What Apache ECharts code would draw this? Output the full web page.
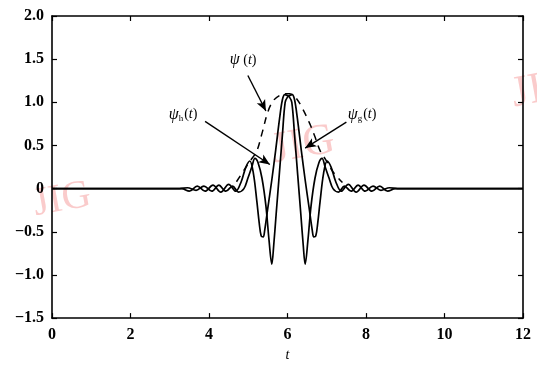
<!DOCTYPE html>
<html><head><meta charset="utf-8">
<script src="https://cdn.jsdelivr.net/npm/echarts@6/dist/echarts.min.js"></script>
<style>html,body{margin:0;padding:0;background:#fff}#c{width:537px;height:367px}</style>
</head><body><div id="c"></div>
<script>
// psi_h(t)
const tH = [0, 3.3, 3.5, 3.7, 3.9, 4.1, 4.3, 4.5, 4.68, 4.82, 4.94, 5.04, 5.13, 5.22, 5.28, 5.33, 5.38, 5.42, 5.5, 5.6, 5.7, 5.8, 5.87, 5.93, 5.99, 6.05, 6.11, 6.18, 6.26, 6.34, 6.4, 6.45, 6.52, 6.6, 6.7, 6.8, 6.88, 6.96, 7.06, 7.16, 7.3, 7.45, 7.62, 7.8, 7.98, 8.18, 8.38, 8.6, 8.8, 12];
const vH = [0, 0, -0.03, 0.03, -0.03, 0.04, -0.04, 0.05, -0.03, 0.08, 0.25, 0.32, 0.18, -0.15, -0.4, -0.55, -0.56, -0.48, -0.22, 0.1, 0.45, 0.82, 1.03, 1.09, 1.08, 1.06, 1.0, 0.62, 0.16, -0.3, -0.65, -0.875, -0.6, -0.2, 0.12, 0.3, 0.35, 0.25, 0.12, 0.0, -0.04, 0.03, -0.03, 0.04, -0.03, 0.03, -0.02, 0.01, 0, 0];
// psi_g(t)
const tG = [0, 3.25, 3.45, 3.67, 3.87, 4.07, 4.25, 4.43, 4.6, 4.75, 4.89, 4.99, 5.09, 5.17, 5.25, 5.35, 5.45, 5.53, 5.6, 5.65, 5.71, 5.79, 5.87, 5.94, 6.0, 6.06, 6.12, 6.18, 6.25, 6.35, 6.45, 6.55, 6.63, 6.67, 6.72, 6.77, 6.83, 6.92, 7.01, 7.11, 7.23, 7.37, 7.55, 7.75, 7.95, 8.15, 8.35, 8.55, 8.75, 12];
const vG = [0, 0, 0.01, -0.02, 0.03, -0.03, 0.04, -0.03, 0.03, -0.04, 0.0, 0.12, 0.25, 0.35, 0.3, 0.12, -0.2, -0.6, -0.875, -0.65, -0.3, 0.16, 0.62, 1.0, 1.06, 1.08, 1.09, 1.03, 0.82, 0.45, 0.1, -0.22, -0.48, -0.56, -0.55, -0.4, -0.15, 0.18, 0.32, 0.25, 0.08, -0.03, 0.05, -0.04, 0.04, -0.03, 0.03, -0.03, 0, 0];
// psi(t) (dashed)
const tPsi = [4.7, 4.9, 5.05, 5.22, 5.35, 5.5, 5.64, 5.8, 5.95, 6.05, 6.2, 6.38, 6.57, 6.7, 6.83, 6.98, 7.15, 7.4];
const vPsi = [0.08, 0.22, 0.32, 0.44, 0.64, 0.89, 1.02, 1.08, 1.1, 1.1, 1.06, 0.93, 0.75, 0.6, 0.44, 0.33, 0.2, 0.07];
// axis tick labels
const xTickLabels = ['0', '2', '4', '6', '8', '10', '12'];
const yTickValues = [-1.5, -1.0, -0.5, 0, 0.5, 1.0, 1.5, 2.0];
const yTickLabels = ['\u22121.5', '\u22121.0', '\u22120.5', '0', '0.5', '1.0', '1.5', '2.0'];
// annotations [labelX, labelY, arrowFromX, arrowFromY, arrowToX, arrowToY]
const annPsi = [4.87, 1.49, 4.99, 1.31, 5.45, 0.90];
const annH = [3.34, 0.86, 3.9, 0.78, 5.55, 0.28];
const annG = [7.9, 0.86, 7.5, 0.77, 6.45, 0.47];

const pair = (t, v) => t.map((x, i) => [x, v[i]]);
const font = 'Liberation Serif';
const rich = {
  p: { fontFamily: font, fontSize: 16, color: '#000', fontStyle: 'italic', lineHeight: 18 },
  b: { fontFamily: font, fontSize: 14, color: '#000', lineHeight: 18 },
  i: { fontFamily: font, fontSize: 14, color: '#000', fontStyle: 'italic', lineHeight: 18 },
  s: { fontFamily: font, fontSize: 9, color: '#000', verticalAlign: 'bottom', lineHeight: 18, padding: [0, 1, 0, 0] }
};
const chart = echarts.init(document.getElementById('c'), null, { renderer: 'canvas' });
const axisLabelStyle = { fontFamily: font, fontSize: 16, fontWeight: 'bold', color: '#000' };
const lineCommon = { type: 'line', showSymbol: false, symbol: 'none', smooth: 0.35, z: 3 };
chart.setOption({
  animation: false,
  backgroundColor: '#fff',
  grid: { left: 52, right: 14, top: 16, bottom: 44 },
  graphic: [
    { type: 'text', left: 30, top: 175, rotation: 0.18, z: -1, style: { text: 'JIG', fontFamily: font, fontSize: 40, fill: 'rgba(245,140,140,0.45)' } },
    { type: 'text', left: 268, top: 118, rotation: 0.18, z: -1, style: { text: 'JIG', fontFamily: font, fontSize: 44, fill: 'rgba(245,140,140,0.45)' } },
    { type: 'text', left: 508, top: 62, rotation: 0.18, z: -1, style: { text: 'JIG', fontFamily: font, fontSize: 44, fill: 'rgba(245,140,140,0.45)' } }
  ],
  xAxis: [{
    type: 'value', min: 0, max: 12, interval: 2,
    name: 't', nameLocation: 'middle', nameGap: 29,
    nameTextStyle: { fontFamily: font, fontStyle: 'italic', fontSize: 14, color: '#000' },
    axisLine: { show: true, onZero: false, lineStyle: { color: '#000', width: 1.6 } },
    axisTick: { show: true, inside: true, length: 5, lineStyle: { color: '#000', width: 1.2 } },
    axisLabel: Object.assign({ margin: 9, formatter: (v) => xTickLabels[Math.round(v / 2)] }, axisLabelStyle),
    splitLine: { show: false }
  }, {
    type: 'value', min: 0, max: 12, interval: 2, position: 'top',
    axisLine: { show: true, onZero: false, lineStyle: { color: '#000', width: 1.6 } },
    axisTick: { show: true, inside: true, length: 5, lineStyle: { color: '#000', width: 1.2 } },
    axisLabel: { show: false }, splitLine: { show: false }
  }],
  yAxis: [{
    type: 'value', min: -1.5, max: 2, interval: 0.5,
    axisLine: { show: true, onZero: false, lineStyle: { color: '#000', width: 1.6 } },
    axisTick: { show: true, inside: true, length: 5, lineStyle: { color: '#000', width: 1.2 } },
    axisLabel: Object.assign({ margin: 8, formatter: (v) => { const k = yTickValues.findIndex(x => Math.abs(x - v) < 1e-6); return k >= 0 ? yTickLabels[k] : ''; } }, axisLabelStyle),
    splitLine: { show: false }
  }, {
    type: 'value', min: -1.5, max: 2, interval: 0.5, position: 'right',
    axisLine: { show: true, onZero: false, lineStyle: { color: '#000', width: 1.6 } },
    axisTick: { show: true, inside: true, length: 5, lineStyle: { color: '#000', width: 1.2 } },
    axisLabel: { show: false }, splitLine: { show: false }
  }],
  series: [
    Object.assign({}, lineCommon, {
      name: 'psi_h', data: pair(tH, vH), lineStyle: { color: '#000', width: 1.7 },
      markLine: {
        silent: true, symbol: ['none', 'arrow'], symbolSize: [7, 11],
        label: { show: false },
        lineStyle: { color: '#000', width: 1.4, type: 'solid' },
        data: [
          [{ coord: [annPsi[2], annPsi[3]] }, { coord: [annPsi[4], annPsi[5]] }],
          [{ coord: [annH[2], annH[3]] }, { coord: [annH[4], annH[5]] }],
          [{ coord: [annG[2], annG[3]] }, { coord: [annG[4], annG[5]] }]
        ]
      },
      markPoint: {
        silent: true, symbol: 'circle', symbolSize: 0,
        label: { show: true, position: 'inside', rich: rich },
        data: [
          { coord: [annPsi[0], annPsi[1]], label: { formatter: '{p|\u03c8}{b| (}{i|t}{b|)}' } },
          { coord: [annH[0], annH[1]], label: { formatter: '{p|\u03c8}{s|h}{b|(}{i|t}{b|)}' } },
          { coord: [annG[0], annG[1]], label: { formatter: '{p|\u03c8}{s|g}{b|(}{i|t}{b|)}' } }
        ]
      }
    }),
    Object.assign({}, lineCommon, { name: 'psi_g', data: pair(tG, vG), lineStyle: { color: '#000', width: 1.7 } }),
    Object.assign({}, lineCommon, { name: 'psi', data: pair(tPsi, vPsi), lineStyle: { color: '#000', width: 1.5, type: [7, 6] } })
  ]
});
</script></body></html>
